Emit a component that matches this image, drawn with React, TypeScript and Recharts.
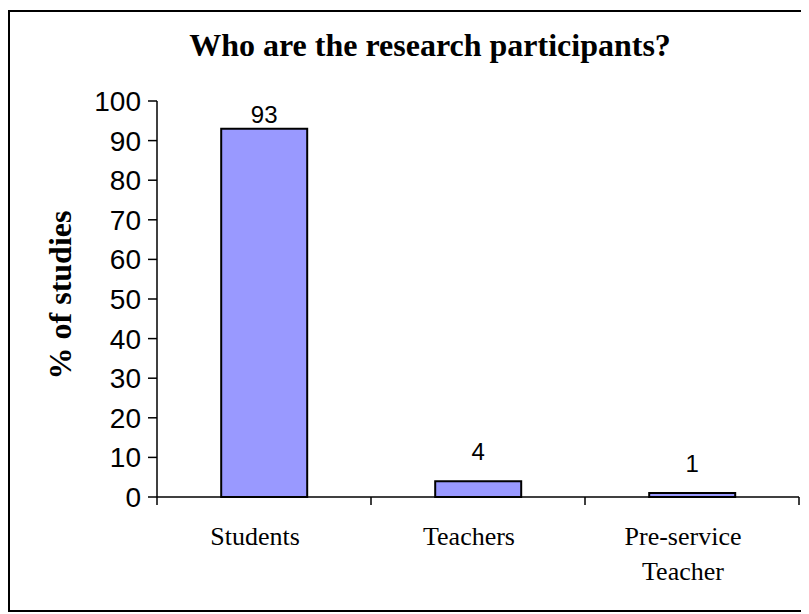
import { Bar, BarChart, LabelList, XAxis, YAxis } from "recharts";

const categories = ["Students", "Teachers", "Pre-service Teacher"];
const percentages = [93, 4, 1];
const yTicks = [0, 10, 20, 30, 40, 50, 60, 70, 80, 90, 100];

const data = categories.map((name, i) => ({ name, value: percentages[i] }));

const CHART_W = 794;
const CHART_H = 598;
const MARGIN = { top: 89, right: 5, bottom: 13, left: 47 };
const PLOT_TOP = MARGIN.top;

const serif = "'Liberation Serif', 'Times New Roman', serif";
const sans = "'Liberation Sans', Arial, sans-serif";

function CategoryTick(props: any) {
  const { x, y, payload, index, visibleTicksCount } = props;
  const half = payload?.offset ?? 107;
  const lines = String(payload.value).split(" ");
  const isLast = index === visibleTicksCount - 1;
  return (
    <g>
      <line x1={x - half} y1={y} x2={x - half} y2={y + 8} stroke="#000" strokeWidth={1.5} />
      {isLast && <line x1={x + half} y1={y} x2={x + half} y2={y + 8} stroke="#000" strokeWidth={1.5} />}
      {lines.map((line, i) => (
        <text key={i} x={x - 9} y={y + 48 + i * 35} textAnchor="middle" fontFamily={serif} fontSize={26} fill="#000">
          {line}
        </text>
      ))}
    </g>
  );
}

function ValueLabel(props: any) {
  const { x, y, width, value } = props;
  const ty = Math.max(y - 21, PLOT_TOP + 22);
  return (
    <text x={x + width / 2} y={ty} textAnchor="middle" fontFamily={sans} fontSize={24} fill="#000">
      {value}
    </text>
  );
}

export default function App() {
  return (
    <div
      style={{
        position: "relative",
        marginTop: 2,
        width: 798,
        height: 602,
        border: "2px solid #000",
        boxSizing: "border-box",
        background: "#fff",
      }}
    >
      <div
        style={{
          position: "absolute",
          left: 420,
          top: 17,
          transform: "translateX(-50%)",
          whiteSpace: "nowrap",
          fontFamily: serif,
          fontWeight: "bold",
          fontSize: 32,
          lineHeight: "32px",
        }}
      >
        Who are the research participants?
      </div>
      <div
        style={{
          position: "absolute",
          left: 50,
          top: 283,
          transform: "translate(-50%, -50%) rotate(-90deg)",
          whiteSpace: "nowrap",
          fontFamily: serif,
          fontWeight: "bold",
          fontSize: 32,
          lineHeight: "32px",
        }}
      >
        % of studies
      </div>
      <BarChart width={CHART_W} height={CHART_H} data={data} margin={MARGIN} barCategoryGap="30%">
        <XAxis
          dataKey="name"
          height={100}
          tickSize={0}
          tickMargin={0}
          tickLine={false}
          axisLine={{ stroke: "#000", strokeWidth: 1.5 }}
          tick={(p: any) => <CategoryTick {...p} />}
          interval={0}
        />
        <XAxis xAxisId="top" dataKey="name" orientation="top" height={0} tick={false} tickLine={false} axisLine={{ stroke: "#888", strokeWidth: 2 }} />
        <YAxis
          width={100}
          domain={[0, 100]}
          ticks={yTicks}
          interval={0}
          tickSize={9}
          tickMargin={7}
          tickLine={{ stroke: "#000", strokeWidth: 1.5 }}
          axisLine={{ stroke: "#000", strokeWidth: 1.5 }}
          tick={{ fontFamily: sans, fontSize: 28, fill: "#000" }}
        />
        <YAxis yAxisId="right" orientation="right" width={0} domain={[0, 100]} tick={false} tickLine={false} axisLine={{ stroke: "#888", strokeWidth: 2 }} />
        <Bar dataKey="value" fill="#9999FF" stroke="#000" strokeWidth={2} isAnimationActive={false}>
          <LabelList dataKey="value" content={(p: any) => <ValueLabel {...p} />} />
        </Bar>
      </BarChart>
    </div>
  );
}
